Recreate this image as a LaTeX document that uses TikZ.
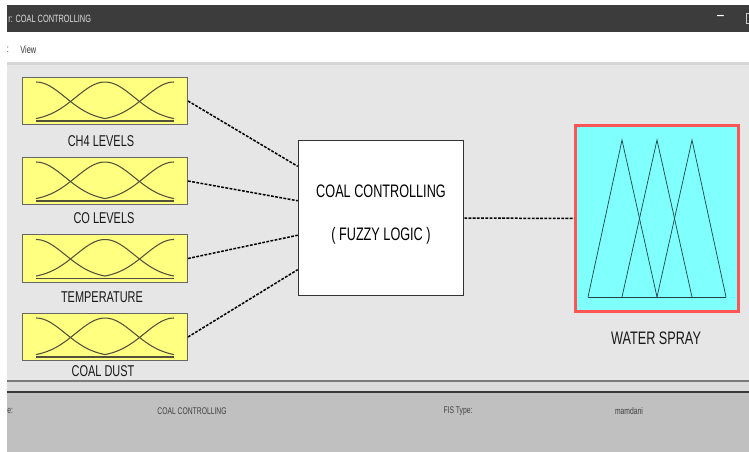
\documentclass[tikz,border=0pt]{standalone}
\usepackage{fontspec}
\setmainfont{Liberation Sans}[FakeStretch=0.7]
\usetikzlibrary{calc}
\definecolor{winBar}{RGB}{60,60,60}
\definecolor{panelGray}{RGB}{230,230,230}
\definecolor{statusGray}{RGB}{192,192,192}
\definecolor{mfYellow}{RGB}{255,255,128}
\definecolor{mfCyan}{RGB}{128,255,255}
\definecolor{mfRed}{RGB}{255,85,85}
\definecolor{curveGray}{RGB}{80,80,60}
\definecolor{triTeal}{RGB}{30,70,70}

\begin{document}
\begin{tikzpicture}[x=0.02cm,y=-0.02cm,
    inbox/.style={draw=black!60,fill=mfYellow,line width=0.6pt,minimum width=3.3cm,minimum height=0.95cm,inner sep=0pt},
    fisbox/.style={draw=black!80,fill=white,line width=0.9pt,minimum width=3.3cm,minimum height=3.1cm,align=center,font=\fontsize{10.3}{12}\selectfont},
    outbox/.style={draw=mfRed,fill=mfCyan,line width=1.7pt,minimum width=3.26cm,minimum height=3.72cm,inner sep=0pt},
    lbl/.style={font=\fontsize{8.9}{10}\selectfont,text=black!90,inner sep=0pt},
    wire/.style={dash pattern=on 1.6pt off 0.8pt,line width=0.85pt},
    mf/.style={draw=curveGray,line width=0.6pt},
    tri/.style={draw=triTeal,line width=0.4pt},
    chrome/.style={font=\fontsize{6}{7}\selectfont,inner sep=0pt},
    status/.style={font=\fontsize{5.5}{6}\selectfont,text=black!75,inner sep=0pt}
  ]
  \useasboundingbox (0,0) rectangle (749,452);
  % window frame
  \fill[white] (0,0) rectangle (749,452);
  \fill[winBar] (7,5) rectangle (749,32);
  \fill[black!16] (7,62) rectangle (749,65);
  \fill[panelGray] (7,65) rectangle (749,380);
  \fill[black!52] (7,380) rectangle (749,382);
  \fill[black!14] (7,382) rectangle (749,391);
  \fill[black!78] (7,391) rectangle (749,393);
  \fill[statusGray] (7,393) rectangle (749,452);
  \draw[white!80!black,line width=0.5pt] (749,13) -- (746.5,13) -- (746.5,23) -- (749,23);
  \node[chrome,text=white!88!black,anchor=west] (title) at (8,18.5) {r: COAL CONTROLLING};
  \node[chrome,text=white,font=\fontsize{10}{10}\selectfont] (minus) at (720.5,18) {–};
  \node[chrome,text=black!80] (menudot) at (8,49.5) {:};
  \node[chrome,text=black!80,anchor=west] (view) at (20,49.5) {View};
  \node[status,anchor=west] (namelbl) at (7,411) {e:};
  \node[status] (fisname) at (192,411) {COAL CONTROLLING};
  \node[status] (typelbl) at (458,411) {FIS Type:};
  \node[status] (typeval) at (629,411) {mamdani};
  % inputs
  \node[inbox] (ch4) at (105,101) {};
  \node[inbox] (co) at (105,181) {};
  \node[inbox] (temp) at (105,258.5) {};
  \node[inbox] (dust) at (105,337) {};
  \node[lbl] (ch4lbl) at (101,141.5) {CH4 LEVELS};
  \node[lbl] (colbl) at (104,218) {CO LEVELS};
  \node[lbl] (templbl) at (102,297) {TEMPERATURE};
  \node[lbl] (dustlbl) at (103,371) {COAL DUST};
  \foreach \b in {ch4,co,temp,dust}{
    \begin{scope}[shift={(\b.center)}]
      \draw[mf] (-69,20) -- (69,20);
      \draw[mf] plot[domain=-69:0,samples=30] (\x,{20-39*exp(-0.5*((\x+69)/29.3)*((\x+69)/29.3))});
      \draw[mf] plot[domain=-69:69,samples=50] (\x,{20-39*exp(-0.5*(\x/29.3)*(\x/29.3))});
      \draw[mf] plot[domain=0:69,samples=30] (\x,{20-39*exp(-0.5*((\x-69)/29.3)*((\x-69)/29.3))});
    \end{scope}
  }
  % rule block
  \node[fisbox] (fis) at (381,218) {COAL CONTROLLING\\[12pt]( FUZZY LOGIC )\\[-6pt]\mbox{}};
  % output
  \node[outbox] (spray) at (657,218.5) {};
  \begin{scope}[shift={(spray.center)}]
    \draw[tri] (-69,78.5) -- (-35,-78.5) -- (0,78.5);
    \draw[tri] (-35,78.5) -- (0,-78.5) -- (35,78.5);
    \draw[tri] (0,78.5) -- (35,-78.5) -- (69,78.5);
    \draw[tri,line width=0.5pt] (-69,78.5) -- (69,78.5);
  \end{scope}
  \node[lbl,font=\fontsize{10.3}{12}\selectfont] (spraylbl) at (656,338) {WATER SPRAY};
  \foreach \b/\f in {ch4/0.17,co/0.39,temp/0.61,dust/0.83}
    \draw[wire] (\b.east) -- ($(fis.north west)!\f!(fis.south west)$);
  \draw[wire] (fis.east) -- (spray.west);
\end{tikzpicture}
\end{document}
